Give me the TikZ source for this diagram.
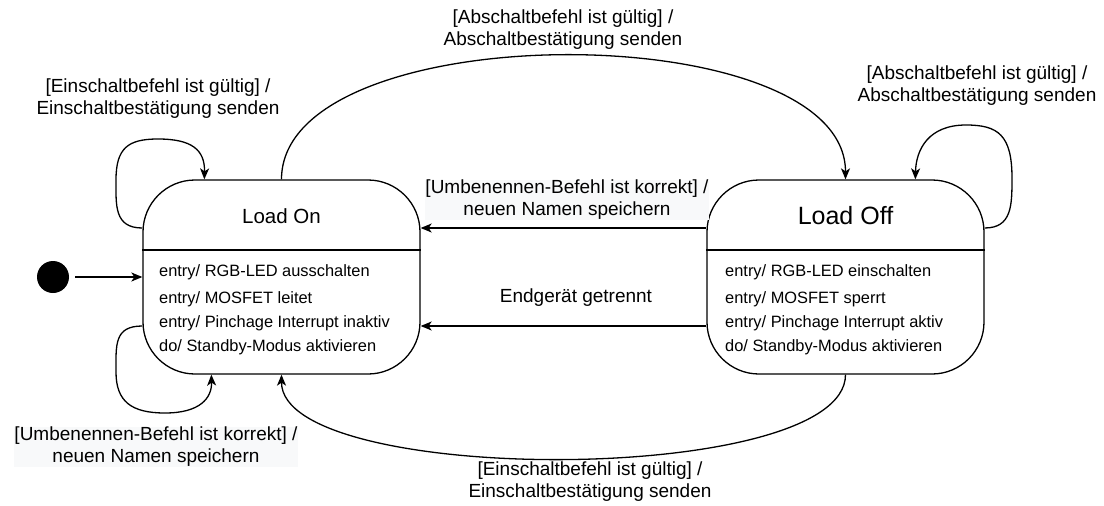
\documentclass[tikz,border=0pt]{standalone}
\usepackage{fontspec}
\setmainfont{Liberation Sans}
\usetikzlibrary{arrows.meta,calc}

\definecolor{labelbg}{RGB}{248,249,250}

\tikzset{
  statebox/.style={draw, line width=1.3pt, rounded corners=52pt,
    minimum width=277pt, minimum height=194pt, inner sep=0pt},
  trans/.style={line width=1.3pt, -{Stealth[length=11pt,width=9pt,inset=3pt]}},
  lbl/.style={align=center, inner sep=0pt, font=\fontsize{19}{22}\selectfont},
  lblbg/.style={lbl, fill=labelbg},
  entry/.style={anchor=west, inner sep=0pt, text height=12pt, text depth=3.5pt,
    font=\fontsize{16.4}{20}\selectfont},
}

\begin{document}
\begin{tikzpicture}[x=1pt,y=-1pt]
\useasboundingbox (0,0) rectangle (1104,506);

% states
\node[statebox] (on)  at (281.5,277) {};
\node[statebox] (off) at (845.5,277) {};
\draw[line width=1.3pt] (on.west |- 0,250) -- (on.east |- 0,250);
\draw[line width=1.3pt] (off.west |- 0,250) -- (off.east |- 0,250);

\node[inner sep=0pt, font=\fontsize{20.5}{24}\selectfont] (ontitle) at (281.5,216) {Load On};
\node[inner sep=0pt, font=\fontsize{25}{29}\selectfont] (offtitle) at (845.5,216) {Load Off};

% internal activities
\node[entry] (on1) at (159,272) {entry/ RGB-LED ausschalten};
\node[entry] (on2) at (159,299) {entry/ MOSFET leitet};
\node[entry] (on3) at (159,323) {entry/ Pinchage Interrupt inaktiv};
\node[entry] (on4) at (159,347) {do/ Standby-Modus aktivieren};

\node[entry] (off1) at (725,272) {entry/ RGB-LED einschalten};
\node[entry] (off2) at (725,299) {entry/ MOSFET sperrt};
\node[entry] (off3) at (725,323) {entry/ Pinchage Interrupt aktiv};
\node[entry] (off4) at (725,347) {do/ Standby-Modus aktivieren};

% initial pseudostate
\node[circle, fill=black, minimum size=32pt, inner sep=0pt] (init) at (53,277) {};
\draw[trans] (init.east) ++(6,0) coordinate (initout) (initout) -- (on.west);

% attachment points on the state borders
\coordinate (onLoopOut)  at ($(on.west)+(0,-49)$);
\coordinate (onLoopIn)   at ($(on.north west)+(62,0)$);
\coordinate (onLoop2Out) at ($(on.west)+(0,49)$);
\coordinate (onLoop2In)  at ($(on.south west)+(69,0)$);
\coordinate (offLoopOut) at ($(off.east)+(0,-49)$);
\coordinate (offLoopIn)  at ($(off.north west)+(209,0)$);
\coordinate (offUpper)   at ($(off.west)+(0,-49)$);
\coordinate (offLower)   at ($(off.west)+(0,49)$);
\coordinate (onUpper)    at ($(on.east)+(0,-49)$);
\coordinate (onLower)    at ($(on.east)+(0,49)$);

% Load On -> Load Off
\draw[trans] (on.north) .. controls ($(on.north)+(0,-165)$) and ($(off.north)+(0,-165)$) .. (off.north);
\node[lbl] (lblOff) at (563,30) {[Abschaltbefehl ist gültig] /\\Abschaltbestätigung senden};

% Load Off -> Load On
\draw[trans] (off.south) .. controls ($(off.south)+(0,112)$) and ($(on.south)+(0,112)$) .. (on.south);
\node[lbl] (lblOn) at (590,482) {[Einschaltbefehl ist gültig] /\\Einschaltbestätigung senden};

\draw[trans] (offUpper) -- (onUpper);
\node[lblbg] (lblRen) at (567,200) {[Umbenennen-Befehl ist korrekt] /\\neuen Namen speichern};

\draw[trans] (offLower) -- (onLower);
\node[lbl] (lblSep) at (576,298) {Endgerät getrennt};

% self transitions of Load On
\draw[trans] (onLoopOut) .. controls (114,228) and (116,205) .. (116,180)
  .. controls (116,148) and (128,139) .. (158,139)
  .. controls (192,139) and (205,150) .. (onLoopIn);
\node[lbl] (lblOnSelf) at (158,99) {[Einschaltbefehl ist gültig] /\\Einschaltbestätigung senden};

\draw[trans] (onLoop2Out) .. controls (114,326) and (116,345) .. (116,372)
  .. controls (116,402) and (132,413) .. (165,413)
  .. controls (200,413) and (212,398) .. (onLoop2In);
\node[lblbg] (lblOnRen) at (156,447) {[Umbenennen-Befehl ist korrekt] /\\neuen Namen speichern};

% self transition of Load Off
\draw[trans] (offLoopOut) .. controls (1012,228) and (1012,205) .. (1012,178)
  .. controls (1012,135) and (998,125) .. (966,125)
  .. controls (928,125) and (916,150) .. (offLoopIn);
\node[lbl] (lblOffSelf) at (977,86) {[Abschaltbefehl ist gültig] /\\Abschaltbestätigung senden};

\end{tikzpicture}
\end{document}
